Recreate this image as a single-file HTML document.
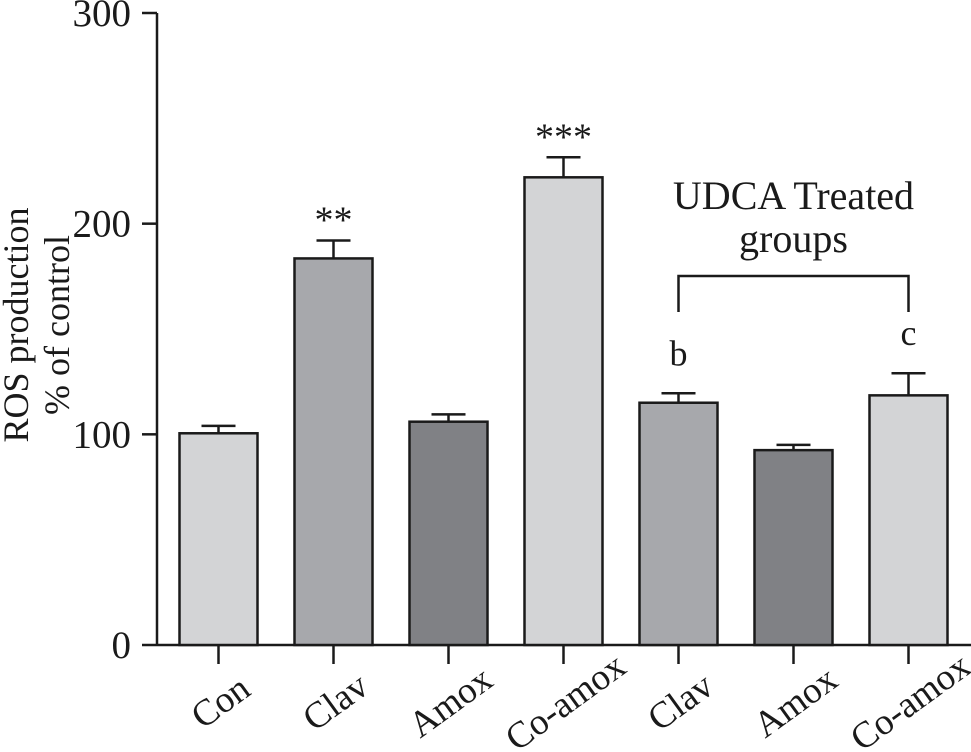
<!DOCTYPE html>
<html><head><meta charset="utf-8"><style>
html,body{margin:0;padding:0;background:#fff;}
svg{display:block;font-family:"Liberation Serif",serif;}
</style></head><body>
<svg id="chart" width="971" height="752"></svg>
<script>
const categories = ["Con","Clav","Amox","Co-amox","Clav","Amox","Co-amox"];
const values = [100.5, 183.5, 106, 222, 115, 92.5, 118.5];
const errors = [3.5, 8.5, 3.5, 9.5, 4.5, 2.5, 10.5];
const sigLabels = ["", "**", "", "***", "b", "", "c"];
const yTicks = [0, 100, 200, 300];
const fills = ["#d3d4d6","#a7a8ac","#808185","#d3d4d6","#a7a8ac","#808185","#d3d4d6"];

const NS = "http://www.w3.org/2000/svg";
const svg = document.getElementById("chart");
const y0 = 645, pxPerUnit = (645 - 13) / 300;
const yScale = v => y0 - v * pxPerUnit;
const xScale = i => 218.5 + i * 115;
const barW = 78;
function mk(tag, attrs, parent) {
  const e = document.createElementNS(NS, tag);
  for (const k in attrs) e.setAttribute(k, attrs[k]);
  (parent || svg).appendChild(e);
  return e;
}

const yAxis = mk("line", {x1:157, y1:yScale(300), x2:157, y2:y0, stroke:"#1a1a1a", "stroke-width":2.5});


const xAxis = mk("line", {x1:157, y1:y0, x2:971, y2:y0, stroke:"#1a1a1a", "stroke-width":2.5});



yTicks.forEach(t => {
  const yy = yScale(t);
  const tk = mk("line", {x1:142, y1:yy, x2:157, y2:yy, stroke:"#1a1a1a", "stroke-width":2.5});
  
  
  const lb = mk("text", {x:131, y:yy + 13, "text-anchor":"end", "font-size":39, fill:"#1a1a1a"});
  lb.textContent = t;
  
  
});

const title = mk("text", {transform:"translate(28,325) rotate(-90)", "text-anchor":"middle", "font-size":36, fill:"#1a1a1a"});


const t1 = mk("tspan", {x:0, y:0}, title); t1.textContent = "ROS production";
const t2 = mk("tspan", {x:0, y:41}, title); t2.textContent = "% of control";

categories.forEach((c, i) => {
  const cx = xScale(i);
  const top = yScale(values[i]);
  const et = yScale(values[i] + errors[i]);
  const eb = mk("line", {x1:cx, y1:et, x2:cx, y2:top, stroke:"#1a1a1a", "stroke-width":2.5});
  
  
  const cap = mk("line", {x1:cx-17, y1:et, x2:cx+17, y2:et, stroke:"#1a1a1a", "stroke-width":2.5});
  
  
  const bar = mk("rect", {x:cx-barW/2, y:top, width:barW, height:y0-top, fill:fills[i], stroke:"#1a1a1a", "stroke-width":2.5});
  
  
  const xt = mk("line", {x1:cx, y1:y0, x2:cx, y2:y0+19, stroke:"#1a1a1a", "stroke-width":2.5});
  
  
  const lb = mk("text", {transform:`translate(${cx+2},702) rotate(-36)`, x:0, y:12, "text-anchor":"middle", "font-size":37, fill:"#1a1a1a"});
  lb.textContent = c;
  
  
  if (sigLabels[i]) {
    const star = sigLabels[i].startsWith("*");
    const s = mk("text", {x:cx, y: star ? et - 8 : et - 28, "text-anchor":"middle", "font-size": star ? 38 : 36, fill:"#1a1a1a"});
    s.textContent = sigLabels[i];
    
    
  }
});

const br = mk("path", {d:`M${xScale(4)} 312 V276 H${xScale(6)} V312`, fill:"none", stroke:"#1a1a1a", "stroke-width":2.5});


const ann = mk("text", {x:xScale(5), y:209, "text-anchor":"middle", "font-size":40, fill:"#1a1a1a"});


const a1 = mk("tspan", {x:xScale(5), y:209}, ann); a1.textContent = "UDCA Treated";
const a2 = mk("tspan", {x:xScale(5), y:252}, ann); a2.textContent = "groups";
</script>
</body></html>
